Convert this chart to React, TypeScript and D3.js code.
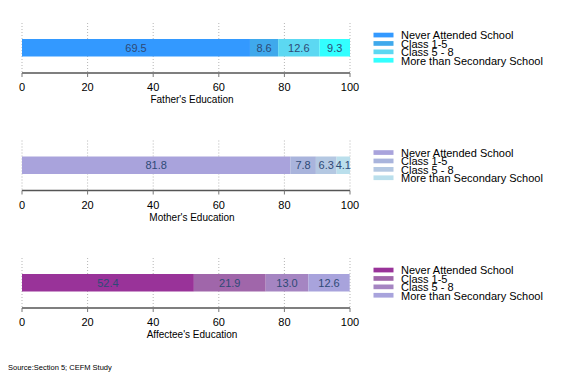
import React from 'react';
import * as d3 from 'd3';

// categories shared by all three panels
const categories = ['Never Attended School', 'Class 1-5', 'Class 5 - 8', 'More than Secondary School'];

const panelTitles = ["Father's Education", "Mother's Education", "Affectee's Education"];

// percentages per panel, in category order
const fatherValues = [69.5, 8.6, 12.6, 9.3];
const motherValues = [81.8, 7.8, 6.3, 4.1];
const affecteeValues = [52.4, 21.9, 13.0, 12.6];

const fatherColors = ['#3399ff', '#3fa9ec', '#5cd8f2', '#33ffff'];
const motherColors = ['#a9a3dc', '#a9b4dc', '#b4c8e2', '#badfec'];
const affecteeColors = ['#993399', '#a066aa', '#a585c2', '#a8a3dc'];

const xTicks = [0, 20, 40, 60, 80, 100];

const panels = [
  { title: panelTitles[0], values: fatherValues, colors: fatherColors, barTop: 39 },
  { title: panelTitles[1], values: motherValues, colors: motherColors, barTop: 156.5 },
  { title: panelTitles[2], values: affecteeValues, colors: affecteeColors, barTop: 274 },
];

const width = 576;
const height = 384;
const barH = 17.5;
const font = '"Liberation Sans", Arial, sans-serif';

const x = d3.scaleLinear().domain([0, 100]).range([22, 350]);

function Panel({ p }: { p: (typeof panels)[number] }) {
  const stack = d3.cumsum(p.values);
  const axisY = p.barTop + 34;
  return (
    <g>
      {xTicks.map(t => (
        <line key={'g' + t} x1={x(t)} x2={x(t)} y1={p.barTop - 16} y2={axisY}
          stroke="#b5b5b5" strokeWidth={1} strokeDasharray="1,2" />
      ))}
      {p.values.map((v, i) => {
        const x0 = x(stack[i] - v);
        const x1 = x(stack[i]);
        return (
          <g key={i}>
            <rect x={x0} y={p.barTop} width={x1 - x0} height={barH} fill={p.colors[i]} />
            <text x={(x0 + x1) / 2} y={p.barTop + barH / 2 + 4} textAnchor="middle"
              fontSize={11} fill="#2e4a76" fontFamily={font}>{v.toFixed(1)}</text>
          </g>
        );
      })}
      <line x1={x(0)} x2={x(100)} y1={axisY} y2={axisY} stroke="#555" strokeWidth={1.5} />
      {xTicks.map(t => (
        <g key={'t' + t}>
          <line x1={x(t)} x2={x(t)} y1={axisY} y2={axisY + 4} stroke="#777" strokeWidth={1} />
          <text x={x(t)} y={axisY + 18} textAnchor="middle" fontSize={11} fill="#000" fontFamily={font}>{t}</text>
        </g>
      ))}
      <text x={192} y={axisY + 30} textAnchor="middle" fontSize={10} fill="#000" fontFamily={font}>{p.title}</text>
      {categories.map((c, i) => (
        <g key={c}>
          <rect x={373.5} y={p.barTop - 6.3 + i * 8.4} width={20} height={4.7} fill={p.colors[i]} />
          <text x={401} y={p.barTop + 0.3 + i * 8.4} fontSize={11} fill="#000" fontFamily={font}>{c}</text>
        </g>
      ))}
    </g>
  );
}

export default function App() {
  return (
    <svg width={width} height={height} style={{ position: 'absolute', left: 0, top: 0, background: '#fff' }}>
      {panels.map(p => <Panel key={p.title} p={p} />)}
      <text x={8} y={370} fontSize={7.5} fill="#000" fontFamily={font}>Source:Section 5; CEFM Study</text>
    </svg>
  );
}
